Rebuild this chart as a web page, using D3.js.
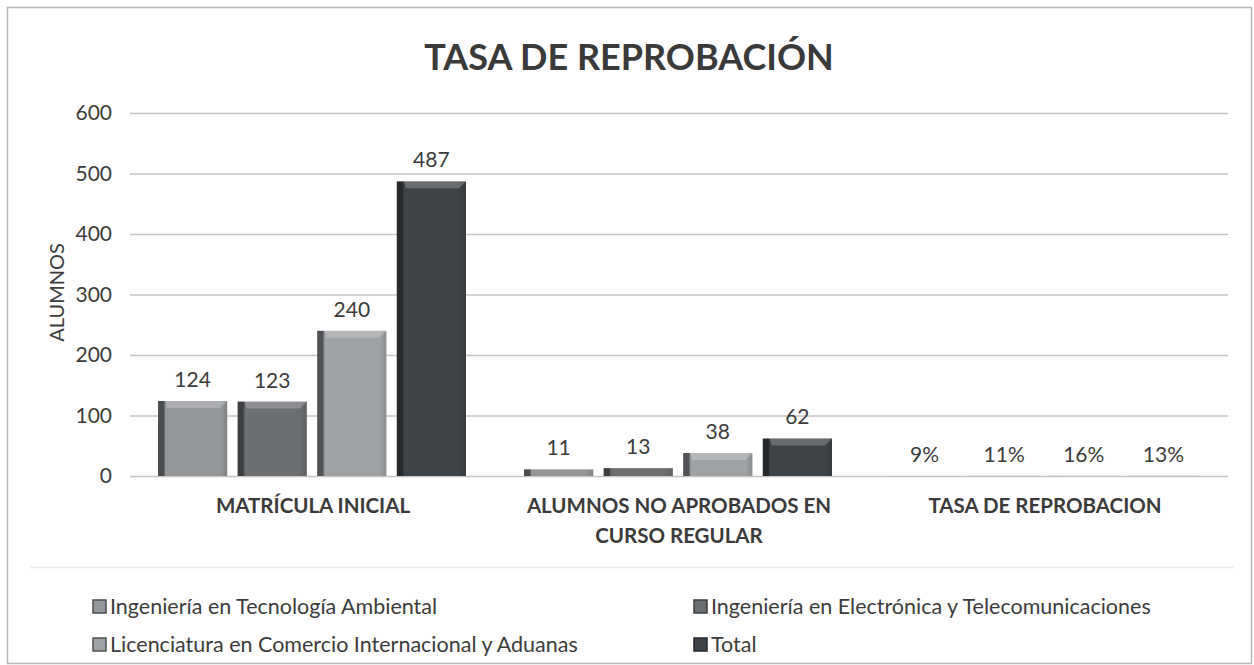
<!DOCTYPE html>
<html>
<head>
<meta charset="utf-8">
<script src="https://cdnjs.cloudflare.com/ajax/libs/d3/7.8.5/d3.min.js"></script>
<style>
  html, body { margin: 0; padding: 0; background: #ffffff; }
  svg text { font-family: Lato, "Open Sans", sans-serif; }
</style>
</head>
<body>
<svg id="chart" width="1254" height="665"></svg>
<script>
// Categories, series and values
const categories = ["MATRÍCULA INICIAL", "ALUMNOS NO APROBADOS EN CURSO REGULAR", "TASA DE REPROBACION"];
const categoryLines = [["MATRÍCULA INICIAL"], ["ALUMNOS NO APROBADOS EN", "CURSO REGULAR"], ["TASA DE REPROBACION"]];
const seriesNames = [
  "Ingeniería en Tecnología Ambiental",
  "Ingeniería en Electrónica y Telecomunicaciones",
  "Licenciatura en Comercio Internacional y Aduanas",
  "Total"
];
const tecAmbiental = [124, 11, 0.09];
const electronica = [123, 13, 0.11];
const comercio = [240, 38, 0.16];
const total = [487, 62, 0.13];
const valueLabels = [
  ["124", "11", "9%"],
  ["123", "13", "11%"],
  ["240", "38", "16%"],
  ["487", "62", "13%"]
];
const yTicks = [0, 100, 200, 300, 400, 500, 600];
const seriesColors = ["#94979a", "#6c6f72", "#9fa2a5", "#3e4347"];
const seriesEdge = ["#4a4c4f", "#3c3e41", "#505255", "#25292c"];

const seriesValues = [tecAmbiental, electronica, comercio, total];

const svg = d3.select("#chart");
const W = 1254, H = 665;
const margin = { left: 130, right: 26, top: 113, bottom: 189 };
const plotBottom = H - margin.bottom;

// Frame
svg.append("rect").attr("x", 7.5).attr("y", 7.5).attr("width", W - 10).attr("height", H - 9)
  .attr("fill", "#fff").attr("stroke", "#b8b8b8").attr("stroke-width", 1.5);
svg.append("line").attr("x1", 30).attr("x2", W - 20).attr("y1", 567.5).attr("y2", 567.5)
  .attr("stroke", "#ececec").attr("stroke-width", 1.5);

// Title
svg.append("text").attr("x", 629).attr("y", 70).attr("text-anchor", "middle")
  .attr("font-size", 36).attr("font-weight", 700).attr("fill", "#3a3a3a")
  .text("TASA DE REPROBACIÓN");

const x0 = d3.scaleBand().domain(categories).range([margin.left, W - margin.right]).paddingInner(0).paddingOuter(0);
const x1 = d3.scaleBand().domain(d3.range(seriesNames.length)).range([28, x0.bandwidth() - 30]).paddingInner(0.13);
const y = d3.scaleLinear().domain([0, 600]).range([plotBottom, margin.top]);

// Gridlines
const grid = svg.append("g")
  .call(d3.axisLeft(y).tickValues(yTicks).tickSize(-(W - margin.right - margin.left)).tickFormat(""))
  .attr("transform", `translate(${margin.left},0)`);
grid.select(".domain").remove();
grid.selectAll(".tick line").attr("stroke", "#c4c4c4").attr("stroke-width", 1.5);

// Y axis labels
const yAxis = svg.append("g").attr("transform", `translate(${margin.left - 18},0)`)
  .call(d3.axisLeft(y).tickValues(yTicks).tickSize(0).tickPadding(0));
yAxis.select(".domain").remove();
yAxis.selectAll("text").attr("font-size", 21).attr("fill", "#3c3c3c")
  .style("font-family", "Lato, 'Open Sans', sans-serif");

svg.append("text").attr("transform", `translate(64,${y(300) - 2}) rotate(-90)`)
  .attr("text-anchor", "middle").attr("font-size", 20).attr("fill", "#3c3c3c").text("ALUMNOS");

// Bars
const defs = svg.append("defs");
seriesColors.forEach((c, i) => {
  const g = defs.append("linearGradient").attr("id", "g" + i).attr("x1", 0).attr("x2", 1).attr("y1", 0).attr("y2", 0);
  g.append("stop").attr("offset", "0%").attr("stop-color", seriesEdge[i]);
  g.append("stop").attr("offset", "8%").attr("stop-color", seriesEdge[i]);
  g.append("stop").attr("offset", "11%").attr("stop-color", c);
  g.append("stop").attr("offset", "90%").attr("stop-color", c);
  g.append("stop").attr("offset", "100%").attr("stop-color", d3.color(c).darker(0.4));
});

const barData = [];
seriesValues.forEach((vals, s) => {
  vals.forEach((v, ci) => barData.push({ s, ci, v, label: valueLabels[s][ci] }));
});

const bars = svg.append("g").selectAll("g").data(barData).join("g")
  .attr("transform", d => `translate(${x0(categories[d.ci]) + x1(d.s)},0)`);

bars.append("rect")
  .attr("x", 0).attr("width", x1.bandwidth())
  .attr("y", d => y(d.v)).attr("height", d => plotBottom - y(d.v))
  .attr("fill", d => `url(#g${d.s})`);

// Bevel highlight along the top edge
bars.filter(d => plotBottom - y(d.v) > 12).append("path")
  .attr("d", d => {
    const t = y(d.v), w = x1.bandwidth(), b = 7;
    return `M${b},${t}L${w},${t}L${w - b},${t + b}L${b + 2},${t + b}Z`;
  })
  .attr("fill", "#ffffff").attr("opacity", 0.22);

// Value labels
bars.append("text")
  .attr("x", x1.bandwidth() / 2).attr("y", d => y(d.v) - 14)
  .attr("text-anchor", "middle").attr("font-size", 21).attr("fill", "#3c3c3c")
  .text(d => d.label);

// Category labels
categoryLines.forEach((lines, ci) => {
  const cx = x0(categories[ci]) + x0.bandwidth() / 2;
  lines.forEach((ln, li) => {
    svg.append("text").attr("x", cx).attr("y", 513 + li * 30).attr("text-anchor", "middle")
      .attr("font-size", 20.5).attr("font-weight", 700).attr("fill", "#3a3a3a").text(ln);
  });
});

// Legend
const legendPos = [[93, 614], [694, 614], [93, 652], [694, 652]];
seriesNames.forEach((name, i) => {
  const [lx, ly] = legendPos[i];
  svg.append("rect").attr("x", lx).attr("y", ly - 14).attr("width", 13).attr("height", 13)
    .attr("fill", seriesColors[i]).attr("stroke", seriesEdge[i]).attr("stroke-width", 1.5);
  svg.append("text").attr("x", lx + 17).attr("y", ly).attr("font-size", 21.5).attr("fill", "#3c3c3c").text(name);
});
</script>
</body>
</html>
